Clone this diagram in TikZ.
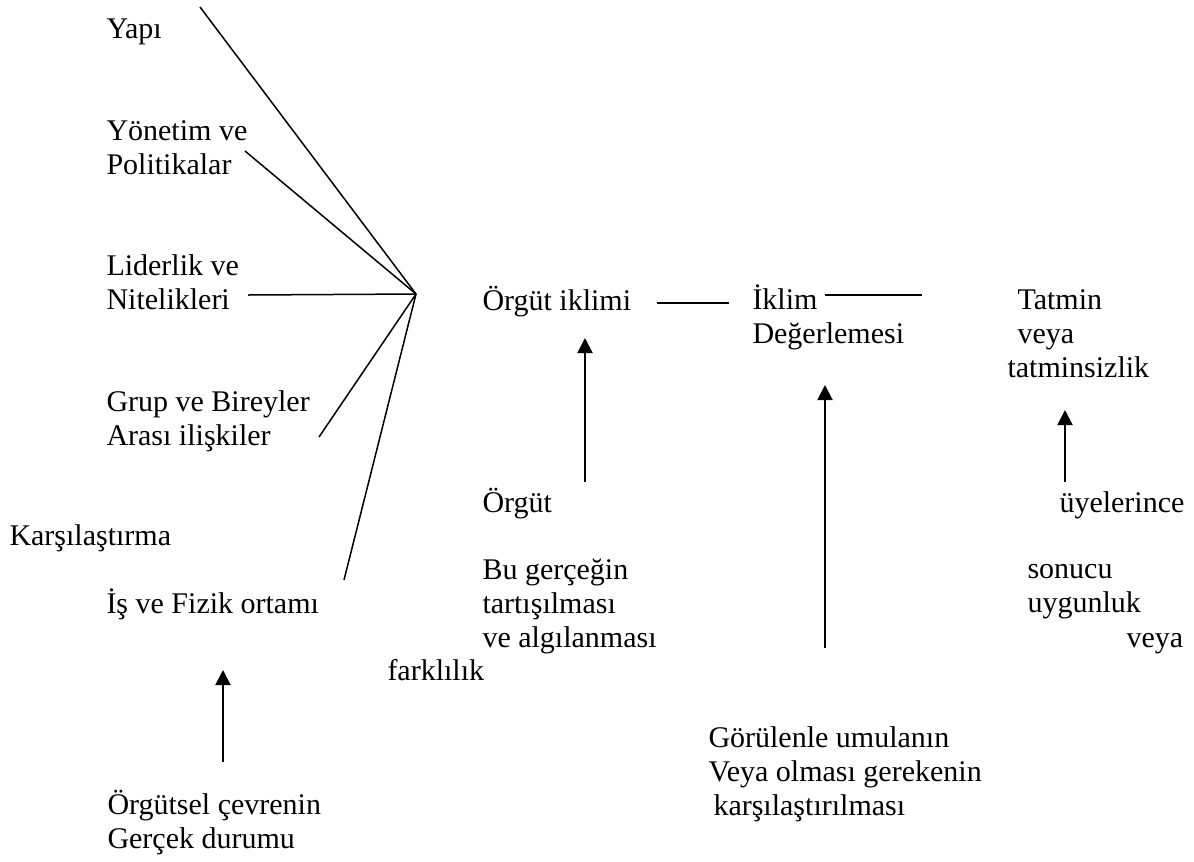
\documentclass[tikz,border=0pt]{standalone}
\usepackage{fontspec}
\setmainfont{Liberation Serif}
\usetikzlibrary{arrows.meta}

\begin{document}
\begin{tikzpicture}[x=0.4pt, y=-0.4pt, >={Triangle[length=6pt,width=6pt]},
    lbl/.style={anchor=base west, inner sep=0pt, align=left, font=\fontsize{12pt}{13.6pt}\selectfont},
    spoke/.style={line width=0.6pt},
    up/.style={->, line width=0.8pt}]
        \useasboundingbox (0,0) rectangle (1194,861);

        % factors on the left (multi-line nodes sit on their last line)
        \node[lbl] (yapi) at (106,38) {Yapı};
        \node[lbl] (yonetim) at (106,174) {Yönetim ve\\Politikalar};
        \node[lbl] (liderlik) at (106,309) {Liderlik ve\\Nitelikleri};
        \node[lbl] (grup) at (106,445) {Grup ve Bireyler\\Arası ilişkiler};
        \node[lbl] (karsi) at (9,545) {Karşılaştırma};
        \node[lbl] (fizik) at (106,613) {İş ve Fizik ortamı};
        \node[lbl] (cevre) at (107,848) {Örgütsel çevrenin\\Gerçek durumu};

        % spokes into the hub
        \coordinate (hub) at (416,294);
        \coordinate (s1) at (200,7);
        \coordinate (s2) at (245,151);
        \coordinate (s3) at (248,295);
        \coordinate (s4) at (319,437);
        \coordinate (s5) at (344,580);
        \foreach \s in {s1,s2,s3,s4,s5}
            \draw[spoke] (\s) -- (hub);

        % middle column
        \node[lbl] (iklim) at (482,310) {Örgüt iklimi};
        \node[lbl] (orgut) at (482,512) {Örgüt};
        \node[lbl] (gercek) at (482,647) {Bu gerçeğin\\tartışılması\\ve algılanması};
        \node[lbl] (fark) at (387,680) {farklılık};
        \node[lbl] (deger) at (752,343) {İklim\\Değerlemesi};
        \node[lbl] (gorulen) at (708,815) {Görülenle umulanın\\Veya olması gerekenin\\\hspace*{2pt}karşılaştırılması};

        % right column
        \node[lbl] (tatmin) at (1007,377) {\hspace*{4pt}Tatmin\\\hspace*{4pt}veya\\tatminsizlik};
        \node[lbl] (uye) at (1059,512) {üyelerince};
        \node[lbl] (sonuc) at (1027,612) {sonucu\\uygunluk};
        \node[lbl] (veya) at (1126,647) {veya};

        % links between the blocks
        \coordinate (l1a) at (657,303);
        \coordinate (l1b) at (729,303);
        \coordinate (l2a) at (825,295);
        \coordinate (l2b) at (922,295);
        \draw[spoke] (l1a) -- (l1b);
        \draw[spoke] (l2a) -- (l2b);

        % arrows upwards
        \coordinate (a1s) at (223,762);
        \coordinate (a1e) at (223,670);
        \coordinate (a2s) at (585,482);
        \coordinate (a2e) at (585,338);
        \coordinate (a3s) at (825,648);
        \coordinate (a3e) at (825,385);
        \coordinate (a4s) at (1065,482);
        \coordinate (a4e) at (1065,410);
        \draw[up] (a1s) -- (a1e);
        \draw[up] (a2s) -- (a2e);
        \draw[up] (a3s) -- (a3e);
        \draw[up] (a4s) -- (a4e);
    \end{tikzpicture}
\end{document}
